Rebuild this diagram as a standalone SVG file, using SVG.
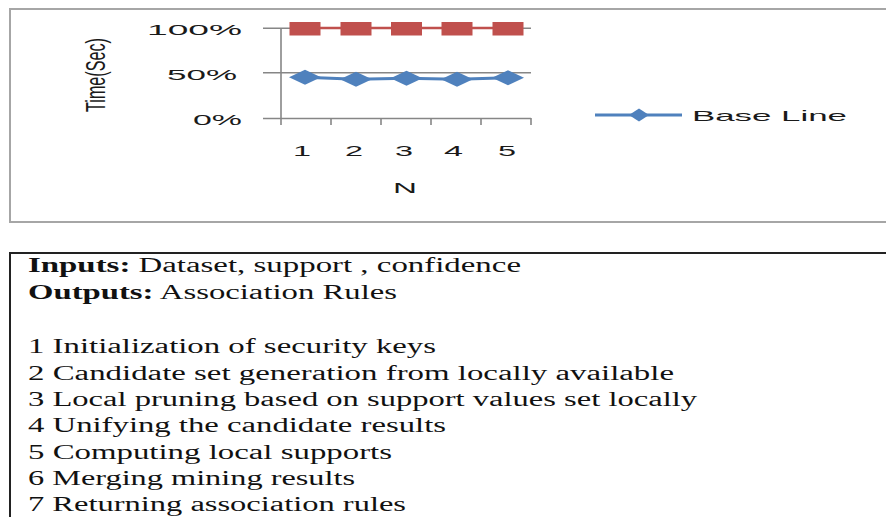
<svg xmlns="http://www.w3.org/2000/svg" width="886" height="517" viewBox="0 0 886 517">
<defs>
<style>
.ax{stroke:#868686;stroke-width:1.6;fill:none}
.ct{font-family:"Liberation Sans","DejaVu Sans",sans-serif;font-size:15px;fill:#1a1a1a}
.tx{font-family:"Liberation Serif","Times New Roman",serif;font-size:20.5px;fill:#111}
.b{font-weight:bold}
.red{fill:#C0504D}
.blue{fill:#4F81BD}
</style>
<polygon id="dia" points="-16,0 0,-7.5 16,0 0,7.5"/>
</defs>
<rect width="886" height="517" fill="#fff"/>
<g id="chart">
<rect x="10" y="9" width="890" height="213" fill="none" stroke="#a6a6a6" stroke-width="2"/>
<g id="axes">
<line class="ax" x1="263" y1="28.3" x2="531" y2="28.3"/>
<line class="ax" x1="263" y1="72.7" x2="531" y2="72.7"/>
<line class="ax" x1="263" y1="118.5" x2="531" y2="118.5"/>
<line class="ax" x1="281" y1="28" x2="281" y2="125"/>
<line class="ax" x1="331" y1="118" x2="331" y2="125"/>
<line class="ax" x1="381" y1="118" x2="381" y2="125"/>
<line class="ax" x1="431" y1="118" x2="431" y2="125"/>
<line class="ax" x1="481" y1="118" x2="481" y2="125"/>
<line class="ax" x1="531" y1="118" x2="531" y2="125"/>
</g>
<g id="ylabels">
<text class="ct" x="147" y="35" textLength="95" lengthAdjust="spacingAndGlyphs">100%</text>
<text class="ct" x="167" y="79.5" textLength="70" lengthAdjust="spacingAndGlyphs">50%</text>
<text class="ct" x="193" y="125" textLength="49" lengthAdjust="spacingAndGlyphs">0%</text>
<text class="ct" transform="translate(105,75) scale(1.8,1) rotate(-90)" text-anchor="middle" font-size="17" textLength="74" lengthAdjust="spacingAndGlyphs">Time(Sec)</text>
</g>
<g id="xlabels">
<text class="ct" x="293" y="156" textLength="18" lengthAdjust="spacingAndGlyphs">1</text>
<text class="ct" x="345" y="156" textLength="18" lengthAdjust="spacingAndGlyphs">2</text>
<text class="ct" x="395" y="156" textLength="18" lengthAdjust="spacingAndGlyphs">3</text>
<text class="ct" x="444" y="156" textLength="19" lengthAdjust="spacingAndGlyphs">4</text>
<text class="ct" x="498" y="156" textLength="18" lengthAdjust="spacingAndGlyphs">5</text>
<text class="ct" x="393" y="193" textLength="24" lengthAdjust="spacingAndGlyphs">N</text>
</g>
<g id="series-red">
<polyline points="305,28 356,28 406.5,28 457,28 508,28" fill="none" stroke="#C0504D" stroke-width="2.5"/>
<rect class="red" x="289.5" y="22" width="31" height="13.5"/>
<rect class="red" x="340.5" y="22" width="31" height="13.5"/>
<rect class="red" x="391" y="22" width="31" height="13.5"/>
<rect class="red" x="441.5" y="22" width="31" height="13.5"/>
<rect class="red" x="492.5" y="22" width="31" height="13.5"/>
</g>
<g id="series-blue">
<polyline points="305,77.3 356,79.3 406.5,78.3 457,79.3 508,77.7" fill="none" stroke="#4F81BD" stroke-width="3"/>
<use href="#dia" class="blue" x="305" y="77.3"/>
<use href="#dia" class="blue" x="356" y="79.3"/>
<use href="#dia" class="blue" x="406.5" y="78.3"/>
<use href="#dia" class="blue" x="457" y="79.3"/>
<use href="#dia" class="blue" x="508" y="77.7"/>
</g>
<g id="legend">
<line x1="595" y1="115" x2="682" y2="115" stroke="#4F81BD" stroke-width="3"/>
<polygon class="blue" points="629,115 639,108.5 649,115 639,121.5"/>
<text class="ct" x="692" y="121" font-size="16" textLength="155" lengthAdjust="spacingAndGlyphs">Base Line</text>
</g>
</g>
<g id="algorithm">
<rect x="10" y="253" width="890" height="280" fill="none" stroke="#222" stroke-width="2"/>
<text class="tx" x="28" y="272" textLength="493" lengthAdjust="spacingAndGlyphs"><tspan class="b">Inputs:</tspan> Dataset, support , confidence</text>
<text class="tx" x="28" y="299" textLength="369" lengthAdjust="spacingAndGlyphs"><tspan class="b">Outputs:</tspan> Association Rules</text>
<text class="tx" x="28" y="353" textLength="408" lengthAdjust="spacingAndGlyphs">1 Initialization of security keys</text>
<text class="tx" x="28" y="380" textLength="646" lengthAdjust="spacingAndGlyphs">2 Candidate set generation from locally available</text>
<text class="tx" x="28" y="406" textLength="669" lengthAdjust="spacingAndGlyphs">3 Local pruning based on support values set locally</text>
<text class="tx" x="28" y="432" textLength="418" lengthAdjust="spacingAndGlyphs">4 Unifying the candidate results</text>
<text class="tx" x="28" y="459" textLength="364" lengthAdjust="spacingAndGlyphs">5 Computing local supports</text>
<text class="tx" x="28" y="485" textLength="327" lengthAdjust="spacingAndGlyphs">6 Merging mining results</text>
<text class="tx" x="28" y="511" textLength="378" lengthAdjust="spacingAndGlyphs">7 Returning association rules</text>
</g>
</svg>
